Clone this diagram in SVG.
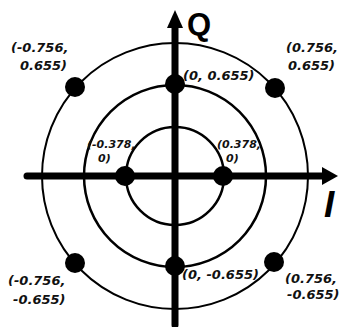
<svg xmlns="http://www.w3.org/2000/svg" width="341" height="327" viewBox="0 0 341 327">
<style>
.ring{fill:none;stroke:#000}
.ax{stroke:#000;stroke-width:7;stroke-linecap:round;fill:none}
.dot{fill:#000}
.lb{font-family:"DejaVu Sans",sans-serif;font-weight:bold;font-style:italic;font-size:13px;fill:#111}
.sm{font-size:11px}
</style>
<rect width="341" height="327" fill="#fff"/>
<g id="rings">
<circle class="ring" cx="175" cy="176" r="133" stroke-width="2"/>
<circle class="ring" cx="175" cy="176" r="91" stroke-width="2.5"/>
<circle class="ring" cx="175" cy="176" r="49" stroke-width="2.5"/>
</g>
<g id="axes">
<line class="ax" x1="27" y1="176" x2="324" y2="176"/>
<polygon points="322,167 338,176 322,185" fill="#000"/>
<line class="ax" x1="175" y1="325" x2="175" y2="26"/>
<polygon points="167,28 175,10 183,28" fill="#000"/>
<text x="187" y="35" font-family="'Liberation Sans',sans-serif" font-weight="bold" font-size="31" fill="#000">Q</text>
<text x="324" y="217" font-family="'Liberation Sans',sans-serif" font-weight="bold" font-style="italic" font-size="37" fill="#000">I</text>
</g>
<g id="p1"><circle class="dot" cx="75" cy="87" r="10"/><text class="lb" x="11" y="52">(-0.756,</text><text class="lb" x="20" y="70">0.655)</text></g>
<g id="p2"><circle class="dot" cx="275" cy="88" r="10"/><text class="lb" x="286" y="52">(0.756,</text><text class="lb" x="288" y="70">0.655)</text></g>
<g id="p3"><circle class="dot" cx="75" cy="263" r="10"/><text class="lb" x="8" y="285">(-0.756,</text><text class="lb" x="13" y="304">-0.655)</text></g>
<g id="p4"><circle class="dot" cx="274" cy="262" r="10"/><text class="lb" x="285" y="283">(0.756,</text><text class="lb" x="287" y="299">-0.655)</text></g>
<g id="p5"><circle class="dot" cx="175" cy="84" r="10"/><text class="lb" x="183" y="80">(0, 0.655)</text></g>
<g id="p6"><circle class="dot" cx="175" cy="266" r="10"/><text class="lb" x="182" y="279">(0, -0.655)</text></g>
<g id="p7"><circle class="dot" cx="125" cy="176" r="10"/><text class="lb sm" x="87" y="148">(-0.378,</text><text class="lb sm" x="98" y="162">0)</text></g>
<g id="p8"><circle class="dot" cx="223" cy="176" r="10"/><text class="lb sm" x="217" y="148">(0.378,</text><text class="lb sm" x="226" y="162">0)</text></g>
</svg>
